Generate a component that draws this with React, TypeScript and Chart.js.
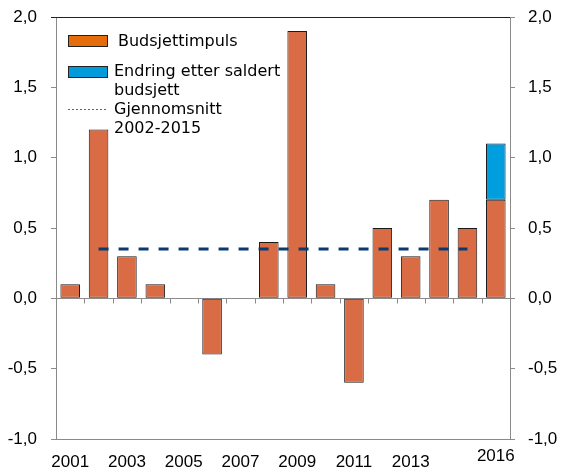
import React, { useEffect, useRef } from "react";
import { Chart, registerables } from "chart.js";

Chart.register(...registerables);

const years = ["2001","2002","2003","2004","2005","2006","2007","2008","2009","2010","2011","2012","2013","2014","2015","2016"];
const impulse = [0.1, 1.2, 0.3, 0.1, 0, -0.4, 0, 0.4, 1.9, 0.1, -0.6, 0.5, 0.3, 0.7, 0.5, 0.7];
const changeAfterBudget = [null, null, null, null, null, null, null, null, null, null, null, null, null, null, null, 0.4];
const average = [null, 0.35, 0.35, 0.35, 0.35, 0.35, 0.35, 0.35, 0.35, 0.35, 0.35, 0.35, 0.35, 0.35, 0.35, null];
const shownYearLabels = ["2001","2003","2005","2007","2009","2011","2013"];
const raisedYearLabel = "2016";
const legendLabels = [["Budsjettimpuls"], ["Endring etter saldert", "budsjett"], ["Gjennomsnitt", "2002-2015"]];

const AXIS_FONT = "'Liberation Sans', Arial, sans-serif";
const LEGEND_FONT = "'DejaVu Sans', Verdana, sans-serif";
const GREY = "#8a8a8a";

const decorPlugin = {
  id: "decor",
  beforeDatasetsDraw(chart: any) {
    const { ctx, chartArea, scales } = chart;
    const x = scales.x;
    const y = scales.y;
    const y0 = Math.round(y.getPixelForValue(0)) + 0.5;
    ctx.save();
    ctx.strokeStyle = GREY;
    ctx.lineWidth = 1;
    ctx.beginPath();
    ctx.moveTo(chartArea.left, y0);
    ctx.lineTo(chartArea.right, y0);
    const half = (x.getPixelForValue(1) - x.getPixelForValue(0)) / 2;
    for (let i = 1; i < years.length; i++) {
      const px = Math.round(x.getPixelForValue(i) - half) + 0.5;
      ctx.moveTo(px, y0);
      ctx.lineTo(px, y0 + 5);
    }
    ctx.stroke();
    ctx.restore();
  },
  afterDraw(chart: any) {
    const { ctx, chartArea, scales } = chart;
    ctx.save();
    // top frame
    ctx.strokeStyle = "#222";
    ctx.lineWidth = 1.2;
    ctx.beginPath();
    ctx.moveTo(chartArea.left - 5, chartArea.top + 0.5);
    ctx.lineTo(chartArea.right, chartArea.top + 0.5);
    ctx.stroke();

    // raised 2016 label
    const x = scales.x;
    ctx.fillStyle = "#000";
    ctx.font = `17px ${AXIS_FONT}`;
    ctx.textAlign = "center";
    ctx.textBaseline = "middle";
    ctx.fillText(raisedYearLabel, x.getPixelForValue(years.indexOf(raisedYearLabel)), chartArea.bottom + 17);

    // legend
    const lx = chartArea.left + 12;
    const sw = 39;
    ctx.font = `16px ${LEGEND_FONT}`;
    ctx.textAlign = "left";
    ctx.textBaseline = "middle";
    ctx.lineWidth = 1;
    ctx.strokeStyle = "#222";
    // item 1
    ctx.fillStyle = "#E46C0A";
    ctx.fillRect(lx + 0.5, 35.5, sw, 11);
    ctx.strokeRect(lx + 0.5, 35.5, sw, 11);
    ctx.fillStyle = "#000";
    ctx.fillText(legendLabels[0][0], lx + 50, 42);
    // item 2
    ctx.fillStyle = "#009BDB";
    ctx.fillRect(lx + 0.5, 66.5, sw, 11);
    ctx.strokeRect(lx + 0.5, 66.5, sw, 11);
    ctx.fillStyle = "#000";
    ctx.fillText(legendLabels[1][0], lx + 46, 72);
    ctx.fillText(legendLabels[1][1], lx + 46, 91);
    // item 3
    ctx.strokeStyle = "#666";
    ctx.setLineDash([2, 2]);
    ctx.beginPath();
    ctx.moveTo(lx, 109.5);
    ctx.lineTo(lx + sw, 109.5);
    ctx.stroke();
    ctx.setLineDash([]);
    ctx.fillText(legendLabels[2][0], lx + 46, 110);
    ctx.fillText(legendLabels[2][1], lx + 46, 129);
    ctx.restore();
  },
};

const fitY = (w: number) => (s: any) => {
  s.width = w;
  s.paddingTop = 0;
  s.paddingBottom = 0;
};

export default function App() {
  const ref = useRef<HTMLCanvasElement | null>(null);
  useEffect(() => {
    if (!ref.current) return;
    const chart = new Chart(ref.current, {
      type: "bar",
      data: {
        labels: years,
        datasets: [
          {
            type: "bar",
            label: "Budsjettimpuls",
            data: impulse,
            backgroundColor: "#D96C45",
            borderColor: "#1a1a1a",
            borderWidth: 1,
            borderSkipped: false,
            barPercentage: 0.69,
            categoryPercentage: 1,
            stack: "s",
            order: 1,
          },
          {
            type: "bar",
            label: "Endring etter saldert budsjett",
            data: changeAfterBudget as any,
            backgroundColor: "#009EDF",
            borderColor: "#1a1a1a",
            borderWidth: 1,
            borderSkipped: false,
            barPercentage: 0.69,
            categoryPercentage: 1,
            stack: "s",
            order: 1,
          },
          {
            type: "line",
            label: "Gjennomsnitt 2002-2015",
            data: average as any,
            borderColor: "#0B3A6E",
            borderWidth: 3,
            borderDash: [10, 10],
            pointRadius: 0,
            fill: false,
            stack: "avg",
            order: 0,
          } as any,
        ],
      },
      plugins: [decorPlugin],
      options: {
        animation: false,
        responsive: false,
        events: [],
        layout: { padding: { top: 17, left: 0, right: 0, bottom: 0 } },
        plugins: { legend: { display: false }, tooltip: { enabled: false }, title: { display: false } },
        scales: {
          x: {
            stacked: true,
            offset: true,
            grid: { display: false },
            border: { display: true, color: GREY, width: 1 },
            ticks: {
              autoSkip: false,
              maxRotation: 0,
              padding: 5,
              color: "#000",
              font: { family: AXIS_FONT, size: 17 },
              callback: (_v: any, i: number) => (shownYearLabels.includes(years[i]) ? years[i] : ""),
            },
            afterFit: (s: any) => {
              s.height = 31;
              s.paddingLeft = 0;
              s.paddingRight = 0;
            },
          },
          y: {
            position: "left",
            stacked: true,
            min: -1,
            max: 2,
            grid: { drawOnChartArea: false, drawTicks: true, tickLength: 5, color: GREY },
            border: { display: true, color: GREY, width: 1 },
            ticks: {
              stepSize: 0.5,
              padding: 14,
              color: "#000",
              font: { family: AXIS_FONT, size: 17 },
              callback: (v: any) => Number(v).toFixed(1).replace(".", ","),
            },
            afterFit: fitY(56),
          },
          y2: {
            position: "right",
            min: -1,
            max: 2,
            grid: { drawOnChartArea: false, drawTicks: true, tickLength: 5, color: GREY },
            border: { display: true, color: GREY, width: 1 },
            ticks: {
              stepSize: 0.5,
              padding: 13,
              color: "#000",
              font: { family: AXIS_FONT, size: 17 },
              callback: (v: any) => Number(v).toFixed(1).replace(".", ","),
            },
            afterFit: fitY(51),
          },
        },
      },
    });
    return () => chart.destroy();
  }, []);
  return (
    <div style={{ position: "absolute", left: 0, top: 0, width: 561, height: 470, background: "#fff" }}>
      <canvas ref={ref} width={561} height={470} style={{ display: "block" }} />
    </div>
  );
}
